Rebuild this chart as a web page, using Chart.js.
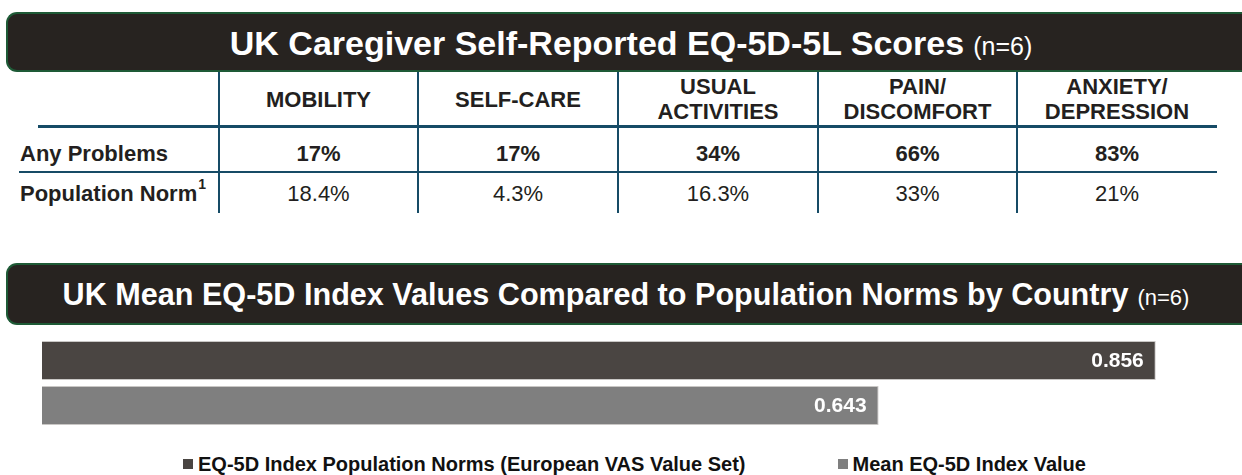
<!DOCTYPE html>
<html>
<head>
<meta charset="utf-8">
<script src="https://cdn.jsdelivr.net/npm/chart.js@4.4.1/dist/chart.umd.min.js"></script>
<style>
  html, body { margin: 0; padding: 0; }
  body {
    width: 1242px; height: 475px; position: relative; overflow: hidden;
    background: #fff; color: #231f20;
    font-family: "Liberation Sans", Arial, sans-serif;
  }
  .banner {
    position: absolute; left: 6px; width: 1248px; box-sizing: border-box;
    background: #272320; border: 2px solid #1e5a36; border-right: none;
    border-radius: 11px 0 0 11px; color: #fff;
    display: flex; align-items: center; justify-content: center;
    white-space: nowrap;
  }
  .banner b { font-weight: bold; }
  .banner .n { font-weight: normal; margin-left: 9px; }
  .cell {
    position: absolute; display: flex; align-items: center; justify-content: center;
    text-align: center; font-size: 22px; line-height: 25px; white-space: pre;
  }
  .cell.label { justify-content: flex-start; padding-left: 20px; box-sizing: border-box; }
  .cell sup { font-size: 14px; line-height: 0; position: relative; top: -9px; vertical-align: baseline; margin-left: 1px; }
  .rule { position: absolute; background: #164b66; }
  #chartBox { position: absolute; left: 0; top: 338px; width: 1242px; height: 90px; }
  #legend {
    position: absolute; left: 183px; top: 454px; height: 20px; display: flex; gap: 92px;
    font-size: 20px; line-height: 20px; font-weight: bold; color: #111;
  }
  #legend span.item { display: flex; align-items: center; }
  #legend i { display: inline-block; width: 10px; height: 10px; margin-right: 5px; }
</style>
</head>
<body>

<div class="banner" style="top:12px;height:60px;padding-top:2px;">
  <span><b style="font-size:34px;">UK Caregiver Self-Reported EQ-5D-5L Scores</b><span class="n" style="font-size:25px;">(n=6)</span></span>
</div>

<div id="table"></div>

<div class="banner" style="top:263px;height:62px;padding-right:10px;">
  <span><b style="font-size:30.6px;">UK Mean EQ-5D Index Values Compared to Population Norms by Country</b><span class="n" style="font-size:22px;">(n=6)</span></span>
</div>

<div id="chartBox"><canvas id="indexChart"></canvas></div>
<div id="legend"></div>

<script>
// table data
const dimensions = ['MOBILITY', 'SELF-CARE', 'USUAL\nACTIVITIES', 'PAIN/\nDISCOMFORT', 'ANXIETY/\nDEPRESSION'];
const rowLabels = ['Any Problems', 'Population Norm'];
const anyProblems = [17, 17, 34, 66, 83];
const populationNorm = ['18.4', '4.3', '16.3', '33', '21'];

// bar chart data
const seriesLabels = ['EQ-5D Index Population Norms (European VAS Value Set)', 'Mean EQ-5D Index Value'];
const indexValues = [0.856, 0.643];
const seriesColors = ['#4a4542', '#7f7f7f'];

document.addEventListener('DOMContentLoaded', function() {
  const table = document.getElementById('table');
  const colEdges = [0, 219, 418, 618, 818, 1017, 1217];
  const rows = [[72, 126], [128, 172], [173, 213]];

  function addCell(text, col, row, opts) {
    const d = document.createElement('div');
    d.className = 'cell' + (col === 0 ? ' label' : '');
    d.style.left = colEdges[col] + 'px';
    d.style.width = (colEdges[col + 1] - colEdges[col]) + 'px';
    d.style.top = rows[row][0] + (opts.shift || 0) + 'px';
    d.style.height = (rows[row][1] - rows[row][0]) + 'px';
    d.style.fontWeight = opts.bold ? 'bold' : 'normal';
    d.innerHTML = text;
    table.appendChild(d);
  }

  dimensions.forEach((t, i) => addCell(t, i + 1, 0, { bold: true }));
  addCell(rowLabels[0], 0, 1, { bold: true, shift: 3 });
  addCell(rowLabels[1] + '<sup>1</sup>', 0, 2, { bold: true });
  anyProblems.forEach((v, i) => addCell(v + '%', i + 1, 1, { bold: true, shift: 3 }));
  populationNorm.forEach((v, i) => addCell(v + '%', i + 1, 2, { bold: false }));

  function addRule(x, y, w, h) {
    const r = document.createElement('div');
    r.className = 'rule';
    Object.assign(r.style, { left: x + 'px', top: y + 'px', width: w + 'px', height: h + 'px' });
    table.appendChild(r);
  }
  colEdges.slice(1, 6).forEach(x => addRule(x - 1, 72, 2, 141));
  addRule(38, 125, 1179, 3);
  addRule(19, 171, 1198, 2);

  // value labels drawn inside the end of each bar
  const valueLabels = {
    id: 'valueLabels',
    afterDatasetsDraw(chart) {
      const ctx = chart.ctx;
      ctx.save();
      ctx.font = 'bold 21px "Liberation Sans", Arial, sans-serif';
      ctx.fillStyle = '#ffffff';
      ctx.textAlign = 'right';
      ctx.textBaseline = 'middle';
      chart.data.datasets.forEach((ds, i) => {
        chart.getDatasetMeta(i).data.forEach((bar, j) => {
          ctx.fillText(ds.data[j].toFixed(3), bar.x - 12, bar.y + 1);
        });
      });
      ctx.restore();
    }
  };

  const ctx = document.getElementById('indexChart').getContext('2d');
  const chart = new Chart(ctx, {
    type: 'bar',
    data: {
      labels: ['UK'],
      datasets: seriesLabels.map((label, i) => ({
        label: label,
        data: [indexValues[i]],
        backgroundColor: seriesColors[i],
        borderColor: '#c9c7c5',
        borderWidth: 1,
        barPercentage: 0.867,
        categoryPercentage: 1.0
      }))
    },
    options: {
      indexAxis: 'y',
      responsive: true,
      maintainAspectRatio: false,
      animation: false,
      layout: { padding: { left: 42, right: 29, top: 0, bottom: 0 } },
      plugins: { legend: { display: false }, tooltip: { enabled: false } },
      scales: {
        x: { display: false, min: 0, max: 0.9 },
        y: { display: false }
      }
    },
    plugins: [valueLabels]
  });

  // legend built from the chart's datasets
  const legend = document.getElementById('legend');
  chart.data.datasets.forEach(ds => {
    const item = document.createElement('span');
    item.className = 'item';
    item.innerHTML = '<i style="background:' + ds.backgroundColor + '"></i>' + ds.label;
    legend.appendChild(item);
  });
});
</script>
</body>
</html>
